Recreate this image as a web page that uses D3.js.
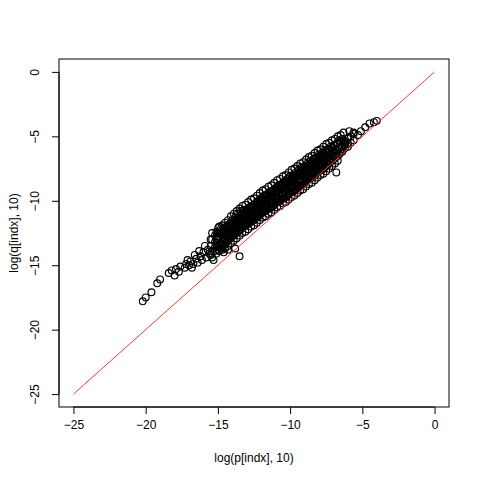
<!DOCTYPE html>
<html><head><meta charset="utf-8">
<script src="https://cdn.jsdelivr.net/npm/d3@7"></script>
<style>body{margin:0;background:#fff}text{font-family:"Liberation Sans",Arial,sans-serif;font-size:12px}</style>
</head><body><svg id="c" width="480" height="480"></svg>
<script>
const xTicks=[-25,-20,-15,-10,-5,0];
const yTicks=[-25,-20,-15,-10,-5,0];
// sparse points (log p, log q)
const tailP=[-20.2,-20.0,-19.6,-19.2,-19.0,-18.4,-18.2,-18.0,-17.9,-17.7,-17.6,-17.3,-17.2,-17.0,-16.9,-16.7,-16.5,-16.4,-16.2,-16.1,-16.0,-15.8,-15.7,-15.6,-14.97,-13.5,-13.8,-6.8,-4.2,-4.5,-4.8,-5.1,-5.3,-5.6,-4.0,-5.9,-6.3,-16.3,-15.9,-16.6,-17.1,-16.8,-15.3,-14.6,-14.3];
const tailQ=[-17.8,-17.5,-17.1,-16.4,-16.1,-15.6,-15.4,-15.8,-15.3,-15.5,-15.1,-15.2,-14.9,-15.0,-14.7,-14.9,-14.5,-14.8,-14.3,-14.6,-14.0,-14.4,-13.8,-14.1,-12.1,-14.3,-13.7,-7.8,-3.9,-4.0,-4.3,-4.6,-4.9,-4.7,-3.8,-4.6,-5.5,-13.9,-13.5,-14.2,-14.6,-15.2,-14.6,-14.0,-13.8];
// dense core: p value per column and its q values
const coreP=[-15.5,-15.2,-15.0,-14.8,-14.6,-14.4,-14.2,-14.0,-13.8,-13.6,-13.4,-13.2,-13.0,-12.8,-12.6,-12.4,-12.2,-12.0,-11.8,-11.6,-11.4,-11.2,-11.0,-10.8,-10.6,-10.4,-10.2,-10.0,-9.8,-9.6,-9.4,-9.2,-9.0,-8.8,-8.6,-8.4,-8.2,-8.0,-7.8,-7.6,-7.4,-7.2,-7.0,-6.8,-6.6,-6.4,-6.2,-6.0,-5.8,-5.6];
const coreQ=[
[-13.0,-14.2,-13.5],[-12.7,-13.9,-13.2,-13.6],[-12.9,-13.5,-13.8,-12.5],[-12.6,-13.3,-12.2,-13.7],[-12.5,-13.0,-12.1,-13.4],
[-12.0,-12.7,-13.2,-12.4],[-11.8,-12.5,-12.9,-12.1],[-11.5,-12.2,-12.7,-11.9,-12.4],[-11.3,-12.0,-12.5,-11.7,-12.2],[-11.0,-11.8,-12.4,-11.5,-12.0],
[-10.8,-11.6,-12.2,-11.3,-11.9],[-10.7,-11.4,-12.0,-11.1,-11.7],[-10.9,-11.3,-11.8,-11.5,-11.0],[-10.5,-11.1,-11.7,-10.8,-11.4],[-10.4,-10.9,-11.5,-10.6,-11.2],
[-10.2,-10.7,-11.3,-10.5,-11.0],[-10.0,-10.5,-11.2,-10.8,-10.3],[-9.8,-10.4,-11.0,-10.6,-10.1],[-9.6,-10.2,-10.8,-10.4,-9.9],[-9.5,-10.0,-10.7,-10.3,-9.8],
[-9.3,-9.9,-10.6,-10.2,-9.6],[-9.2,-9.7,-10.4,-10.0,-9.5],[-9.0,-9.6,-10.2,-9.8,-9.3],[-8.8,-9.4,-10.1,-9.6,-9.1],[-8.7,-9.3,-9.9,-9.5,-9.0],
[-8.5,-9.1,-9.8,-9.3,-8.8],[-8.3,-9.0,-9.6,-9.2,-8.7],[-8.1,-8.8,-9.4,-9.0,-8.5],[-8.0,-8.6,-9.3,-8.9,-8.3],[-7.8,-8.5,-9.1,-8.7,-8.1],
[-7.6,-8.3,-8.9,-8.5,-8.0],[-7.4,-8.1,-8.8,-8.4,-7.8],[-7.3,-8.0,-8.6,-8.2,-7.6],[-7.1,-7.8,-8.4,-8.0,-7.5],[-6.9,-7.6,-8.3,-7.9,-7.3],
[-6.8,-7.5,-8.1,-7.7,-7.1],[-6.6,-7.3,-7.9,-7.5,-7.0],[-6.4,-7.1,-7.7,-7.4,-6.8],[-6.3,-6.9,-7.6,-7.2,-6.6],[-6.1,-6.8,-7.4,-7.0,-6.5],
[-6.0,-6.6,-7.2,-6.9],[-5.8,-6.4,-7.0,-6.7],[-5.7,-6.3,-6.8,-6.5],[-5.6,-6.1,-6.6,-6.3],[-5.3,-5.9,-6.4],
[-5.2,-5.8,-6.2],[-5.4,-5.9,-5.6],[-5.2,-5.6,-5.8],[-5.0,-5.5],[-4.8,-5.3]];
// second set of core columns, in between the first
const coreP2=[-15.4,-15.1,-14.9,-14.7,-14.5,-14.3,-14.1,-13.9,-13.7,-13.5,-13.3,-13.1,-12.9,-12.7,-12.5,-12.3,-12.1,-11.9,-11.7,-11.5,-11.3,-11.1,-10.9,-10.7,-10.5,-10.3,-10.1,-9.9,-9.7,-9.5,-9.3,-9.1,-8.9,-8.7,-8.5,-8.3,-8.1,-7.9,-7.7,-7.5,-7.3,-7.1,-6.9,-6.7,-6.5,-6.3];
const coreQ2=[
[-12.5,-13.9,-13.0,-14.4],[-12.4,-13.6,-12.8,-14.1,-13.0],[-12.0,-13.4,-12.5,-13.9,-12.8,-13.6],[-11.9,-13.2,-12.4,-13.8,-12.6,-13.5],[-11.7,-13.1,-12.2,-13.7,-12.5,-13.4],
[-11.5,-12.8,-11.9,-13.5,-12.2,-13.1],[-11.2,-12.6,-11.8,-13.3,-12.0,-12.9],[-11.0,-12.4,-11.6,-13.1,-11.8,-12.7],[-10.8,-12.2,-11.4,-12.9,-11.6,-12.5],[-10.6,-12.0,-11.2,-12.7,-11.4,-12.3],
[-10.4,-11.8,-11.0,-12.5,-11.2,-12.1],[-10.3,-11.7,-10.8,-12.4,-11.1,-11.9],[-10.1,-11.5,-10.7,-12.2,-10.9,-11.8],[-9.9,-11.3,-10.5,-12.0,-10.7,-11.6],[-9.8,-11.2,-10.3,-11.9,-10.6,-11.5],
[-9.6,-11.0,-10.1,-11.7,-10.4,-11.3],[-9.4,-10.8,-10.0,-11.5,-10.2,-11.1],[-9.2,-10.6,-9.8,-11.3,-10.0,-10.9],[-9.1,-10.5,-9.6,-11.2,-9.9,-10.8],[-8.9,-10.3,-9.5,-11.0,-9.7,-10.6],
[-8.8,-10.2,-9.3,-10.9,-9.6,-10.5],[-8.6,-10.0,-9.1,-10.7,-9.4,-10.3],[-8.4,-9.8,-9.0,-10.5,-9.2,-10.1],[-8.3,-9.7,-8.8,-10.4,-9.1,-10.0],[-8.1,-9.5,-8.7,-10.2,-8.9,-9.8],
[-8.0,-9.4,-8.5,-10.1,-8.8,-9.7],[-7.8,-9.2,-8.3,-9.9,-8.6,-9.5],[-7.6,-9.0,-8.2,-9.7,-8.4,-9.3],[-7.5,-8.9,-8.0,-9.6,-8.3,-9.2],[-7.3,-8.7,-7.9,-9.4,-8.1,-9.0],
[-7.1,-8.5,-7.7,-9.2,-7.9,-8.8],[-7.0,-8.4,-7.5,-9.1,-7.8,-8.7],[-6.8,-8.2,-7.3,-8.9,-7.6,-8.5],[-6.6,-8.0,-7.2,-8.7,-7.4,-8.3],[-6.5,-7.9,-7.0,-8.6,-7.3,-8.2],
[-6.3,-7.7,-6.8,-8.4,-7.1,-8.0],[-6.1,-7.5,-6.7,-8.2,-6.9,-7.8],[-6.0,-7.3,-6.5,-8.0,-6.7,-7.6],[-5.8,-7.2,-6.3,-7.9,-6.6,-7.5],[-5.6,-7.0,-6.2,-7.7,-6.4,-7.3],
[-5.5,-6.9,-6.0,-7.5,-6.2],[-5.3,-6.7,-5.9,-7.3,-6.1],[-5.2,-6.5,-5.7,-7.1],[-5.0,-6.4,-5.5,-6.9],[-4.9,-6.2,-5.4],[-4.7,-6.0,-5.3]];
const refLine=[[-25,-25],[0,0]];

const svg=d3.select("#c");
const L=59,R=449,T=59,B=407;
const x=d3.scaleLinear().domain([-26,1]).range([L,R]);
const y=d3.scaleLinear().domain([-26,1]).range([B,T]);
const pts=tailP.map((p,i)=>[p,tailQ[i]]);
coreP.forEach((p,i)=>coreQ[i].forEach(q=>pts.push([p,q])));
coreP2.forEach((p,i)=>coreQ2[i].forEach(q=>pts.push([p,q])));
svg.append("clipPath").attr("id","cl").append("rect").attr("x",L).attr("y",T).attr("width",R-L).attr("height",B-T);
svg.append("g").selectAll("circle").data(pts).join("circle")
 .attr("cx",d=>x(d[0])).attr("cy",d=>y(d[1])).attr("r",3.4)
 .attr("fill","none").attr("stroke","#000").attr("stroke-width",1.15);
svg.append("path").attr("clip-path","url(#cl)").attr("d",d3.line().x(d=>x(d[0])).y(d=>y(d[1]))(refLine))
 .attr("stroke","#f23a24").attr("fill","none").attr("stroke-width",1);
svg.append("rect").attr("x",L).attr("y",T).attr("width",R-L).attr("height",B-T).attr("fill","none").attr("stroke","#000");
const xa=svg.append("g").attr("transform",`translate(0,${B})`).call(d3.axisBottom(x).tickValues(xTicks).tickSize(7).tickPadding(6));
const ya=svg.append("g").attr("transform",`translate(${L},0)`).call(d3.axisLeft(y).tickValues(yTicks).tickSize(7).tickPadding(4));
[xa,ya].forEach(a=>{a.selectAll("text").style("font-size","12px").style("font-family","Liberation Sans, Arial").attr("fill","#000");});
xa.select(".domain").remove();ya.select(".domain").remove();
svg.append("line").attr("x1",x(-25)).attr("x2",x(0)).attr("y1",B).attr("y2",B).attr("stroke","#000");
svg.append("line").attr("x1",L).attr("x2",L).attr("y1",y(-25)).attr("y2",y(0)).attr("stroke","#000");
ya.selectAll(".tick text").each(function(){
  d3.select(this).attr("x",null).attr("dy",null).attr("text-anchor","middle")
   .attr("transform",`translate(-20,0) rotate(-90)`);});
svg.append("text").attr("x",(L+R)/2).attr("y",462).attr("text-anchor","middle").text("log(p[indx], 10)");
svg.append("text").attr("transform",`translate(18,${(T+B)/2}) rotate(-90)`).attr("text-anchor","middle").text("log(q[indx], 10)");
</script></body></html>
